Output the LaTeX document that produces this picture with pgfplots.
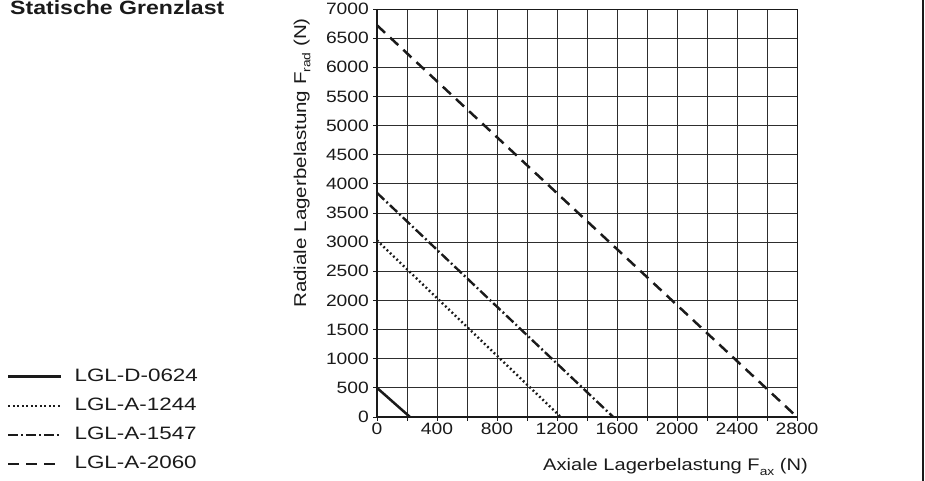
\documentclass[border=0pt]{standalone}
\usepackage{fontspec}
\setmainfont[FakeStretch=1.2]{Liberation Sans}
\newfontfamily\tickfont[FakeStretch=1.17]{Liberation Sans}
\newfontfamily\legfont[FakeStretch=1.25]{Liberation Sans}
\usepackage{pgfplots}
\pgfplotsset{compat=1.18}
\definecolor{ink}{HTML}{1A1A1A}
\definecolor{gridc}{HTML}{2E2E2E}
\newcommand{\sub}[1]{\raisebox{-0.25em}{\fontsize{11.5}{11.5}\selectfont #1}}
\begin{document}
\begin{tikzpicture}[x=1bp,y=1bp]
\useasboundingbox (0,0) rectangle (925,481);
\begin{axis}[
  at={(377bp,64bp)}, anchor=south west,
  width=420bp, height=408bp, scale only axis,
  xmin=0, xmax=2800, ymin=0, ymax=7000,
  xtick={0,400,...,2800}, minor xtick={200,600,...,2600},
  ytick={0,500,...,7000},
  xtick pos=bottom, ytick pos=left,
  grid=both,
  major grid style={line width=0.9bp, draw=gridc},
  minor grid style={line width=0.9bp, draw=gridc},
  tick align=outside, major tick length=4bp, minor tick length=4bp,
  tick style={line width=0.9bp, draw=ink},
  axis line style={line width=0.9bp, draw=ink},
  scaled ticks=false,
  /pgf/number format/assume math mode=true,
  /pgf/number format/1000 sep={},
  tick label style={font=\tickfont\fontsize{16.5}{18}\selectfont, text=ink},
  xticklabel style={inner sep=0pt, yshift=-2bp},
  yticklabel style={inner sep=0pt, xshift=-4bp},
  legend cell align=left,
  legend style={at={(-0.881,0.118)}, anchor=north west, draw=none, fill=none,
    inner sep=0pt, outer sep=0pt, row sep=13.3bp,
    font=\legfont\fontsize{18}{20}\selectfont, text=ink,
    nodes={inner sep=0pt, text height=12.8bp, text depth=3bp},
    /tikz/every odd column/.append style={column sep=12bp}},
  legend image code/.code={\draw[#1, line width=2.6bp] (0bp,0bp) -- (53bp,0bp);},
  extra description/.code={\draw[line width=1.9bp, ink] (0,1) -- (0,0) -- (1,0);},
]
\addplot[ink, line width=2.5bp, line cap=butt] coordinates {(0,500) (220,0)};
\addlegendentry{LGL-D-0624}
\addplot[ink, line width=2.4bp, line cap=butt, dash pattern=on 1.8bp off 2.7bp] coordinates {(0,3030) (1225,0)};
\addlegendentry{LGL-A-1244}
\addplot[ink, line width=2.4bp, line cap=butt, dash pattern=on 10bp off 3bp on 1.8bp off 3bp] coordinates {(0,3845) (1575,0)};
\addlegendentry{LGL-A-1547}
\addplot[ink, line width=2.5bp, line cap=butt, dash pattern=on 11bp off 7bp] coordinates {(0,6720) (2800,0)};
\addlegendentry{LGL-A-2060}
\end{axis}
\node[anchor=base west, inner sep=0pt, text=ink, font=\bfseries\fontsize{19.3}{21}\selectfont] at (10,466) {Statische Grenzlast};
\node[rotate=90, anchor=base east, inner sep=0pt, text=ink, font=\fontsize{17.2}{18}\selectfont] at (306,463) {Radiale Lagerbelastung F\sub{rad} (N)};
\node[anchor=base east, inner sep=0pt, text=ink, font=\fontsize{16.8}{18}\selectfont] at (808,10) {Axiale Lagerbelastung F\sub{ax} (N)};
\draw[line width=2bp, ink] (922.5,0) -- (922.5,481);
\end{tikzpicture}
\end{document}
